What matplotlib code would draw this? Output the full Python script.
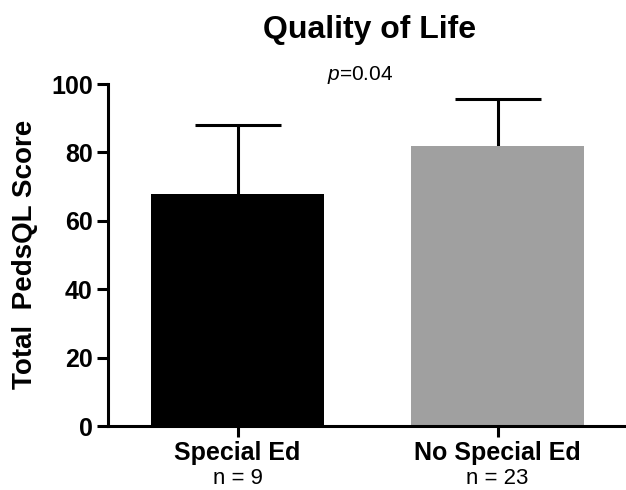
import matplotlib
matplotlib.use('Agg')
import matplotlib.pyplot as plt

# data
groups = ['Special Ed', 'No Special Ed']
n_labels = ['n = 9', 'n = 23']
means = [67.8, 81.9]
sd_upper = [20.2, 13.7]
bar_colors = ['#000000', '#a0a0a0']
p_text = r'$\it{p}$=0.04'

plt.rcParams['font.family'] = ['Liberation Sans', 'DejaVu Sans']
plt.rcParams['mathtext.fontset'] = 'custom'
plt.rcParams['mathtext.rm'] = 'Liberation Sans'
plt.rcParams['mathtext.it'] = 'Liberation Sans:italic'

fig = plt.figure(figsize=(6.26, 4.9), dpi=100)
ax = fig.add_axes([108 / 626, 64 / 490, 518 / 626, 342 / 490])

pos = list(range(len(groups)))
ax.bar(pos, means, width=0.665, color=bar_colors, zorder=2)
eb = ax.errorbar(pos, means, yerr=[[0] * len(means), sd_upper], fmt='none',
                 ecolor='black', elinewidth=2.2, capsize=31, capthick=2.2, zorder=1)
# only the upper cap is drawn in the original
eb[1][0].set_visible(False)

ax.set_xlim(-0.498, 1.494)
ax.set_ylim(0, 100)
ax.set_yticks([0, 20, 40, 60, 80, 100])

for s in ['top', 'right']:
    ax.spines[s].set_visible(False)
for s in ['left', 'bottom']:
    ax.spines[s].set_linewidth(2.2)

ax.tick_params(axis='both', length=8, width=2.2, labelsize=18, pad=3)
ax.set_xticks(pos)
ax.set_xticklabels(groups, fontweight='bold')
for lab in ax.get_yticklabels():
    lab.set_fontweight('bold')

# sample sizes under the group names
for x, n in zip(pos, n_labels):
    ax.annotate(n, xy=(x, 0), xycoords=('data', 'axes fraction'),
                xytext=(0, -38), textcoords='offset points',
                ha='center', va='center', fontsize=16)

fig.text(370 / 626, 1 - 30 / 490, 'Quality of Life', ha='center', va='center',
         fontsize=23, fontweight='bold')
fig.text(360 / 626, 1 - 75 / 490, p_text, ha='center', va='center', fontsize=15)
fig.text(25 / 626, 1 - 254 / 490, 'Total  PedsQL Score', rotation=90,
         ha='center', va='center', fontsize=20, fontweight='bold')

fig.savefig('out.png', dpi=100)
